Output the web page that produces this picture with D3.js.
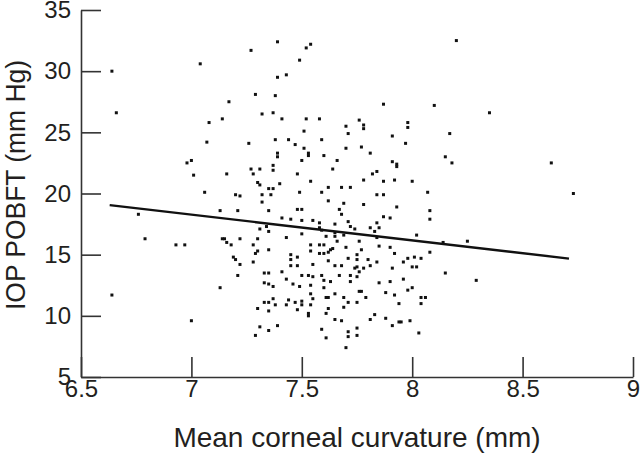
<!DOCTYPE html>
<html>
<head>
<meta charset="utf-8">
<script src="https://cdn.jsdelivr.net/npm/d3@7"></script>
<style>
  body { margin: 0; background: #fff; }
  text { font-family: 'Liberation Sans', Arial, sans-serif; fill: #231f20; }
</style>
</head>
<body>
<div id="scatter"></div>
<script>
// values: mean corneal curvature (mm) vs IOP POBFT (mm Hg)
let curvature = [
  6.64, 6.66, 7.04, 7.17, 7.08, 7.14, 7.27, 7.39, 7.29, 7.32, 7.37, 7.38, 7.39, 7.43, 7.41, 7.49, 7.52, 7.54, 7.52, 7.51,
  7.58, 8.20, 7.87, 8.10, 8.35, 7.76, 7.70, 7.78, 7.78, 7.98, 7.98, 7.71, 7.91, 8.17, 7.07, 7.26, 7.38, 7.44, 7.47, 7.51,
  7.39, 7.39, 7.53, 7.53, 7.59, 7.70, 7.77, 7.81, 7.97, 7.60, 7.66, 7.64, 7.50, 7.91, 7.93, 7.93, 8.15, 8.18, 8.63, 6.98,
  7.00, 7.01, 7.16, 7.27, 7.28, 7.31, 7.37, 7.37, 7.48, 7.82, 7.84, 7.54, 7.78, 7.87, 7.92, 8.00, 7.06, 7.20, 7.22, 7.30,
  7.31, 7.40, 7.35, 7.37, 7.32, 7.36, 7.32, 7.49, 7.59, 7.62, 7.68, 7.72, 7.84, 7.87, 8.07, 8.73, 7.62, 7.69, 7.78, 7.93,
  7.35, 7.13, 7.21, 7.48, 7.50, 7.67, 7.68, 8.08, 7.87, 7.90, 8.08, 7.41, 7.45, 7.50, 7.55, 7.58, 7.65, 7.71, 7.84, 6.76,
  7.72, 7.74, 7.81, 7.85, 7.83, 7.58, 7.59, 7.31, 7.34, 7.35, 7.14, 7.15, 7.16, 7.18, 7.22, 7.30, 7.28, 7.35, 7.43, 7.50,
  7.61, 7.65, 7.65, 7.69, 7.66, 7.76, 7.84, 7.54, 7.58, 7.60, 7.64, 7.70, 7.77, 8.02, 8.14, 8.25, 7.85, 7.90, 7.63, 7.45,
  7.45, 7.48, 7.54, 7.58, 7.60, 7.62, 7.71, 7.75, 7.75, 7.80, 7.62, 7.92, 8.08, 7.96, 7.98, 8.01, 8.04, 7.84, 7.19, 7.20,
  7.22, 7.28, 7.29, 7.30, 6.79, 6.93, 6.97, 7.45, 7.48, 7.55, 7.65, 7.68, 7.74, 7.75, 7.78, 7.81, 7.91, 8.00, 8.02, 8.15,
  8.29, 7.50, 7.53, 7.55, 7.59, 7.60, 7.67, 7.72, 7.75, 7.43, 7.46, 7.49, 7.54, 7.60, 7.63, 7.72, 7.76, 7.77, 7.54, 7.65,
  7.79, 7.55, 7.61, 7.62, 7.69, 7.71, 7.75, 7.44, 7.43, 7.47, 7.50, 7.50, 7.54, 7.21, 7.33, 7.35, 7.41, 7.33, 7.35, 7.37,
  7.13, 7.33, 7.35, 7.37, 7.38, 7.48, 7.53, 7.53, 7.85, 7.90, 7.96, 7.88, 7.92, 7.98, 8.00, 8.04, 8.06, 8.04, 7.94, 7.76,
  7.62, 7.61, 7.69, 7.81, 7.83, 7.65, 7.68, 7.59, 7.61, 7.71, 7.71, 7.75, 7.75, 7.70, 7.88, 7.91, 7.94, 7.95, 7.99, 8.03,
  7.30, 7.35, 7.31, 7.35, 7.39, 7.29, 7.00, 6.64
];
let iop = [
  30.0, 26.6, 30.6, 27.5, 25.8, 26.1, 31.7, 32.4, 28.1, 26.5, 26.6, 28.0, 29.5, 29.7, 26.1, 30.9, 31.9, 32.2, 26.1, 25.1,
  26.1, 32.5, 27.3, 27.2, 26.6, 26.0, 25.5, 25.6, 25.3, 25.8, 25.4, 24.9, 24.7, 24.9, 24.2, 24.1, 24.4, 24.4, 24.0, 23.7,
  23.3, 23.0, 23.3, 23.1, 24.4, 23.7, 23.8, 23.3, 24.1, 23.1, 22.7, 22.0, 22.7, 22.6, 22.4, 22.2, 23.0, 22.5, 22.5, 22.5,
  22.7, 21.5, 21.6, 22.0, 21.6, 22.0, 22.3, 21.9, 21.6, 21.6, 21.8, 21.0, 21.1, 21.0, 21.1, 21.0, 20.1, 19.9, 19.8, 20.9,
  20.7, 20.8, 20.4, 20.4, 19.9, 19.9, 19.3, 20.1, 20.1, 20.5, 20.5, 20.5, 19.9, 19.9, 20.1, 20.0, 19.4, 19.2, 19.1, 18.9,
  18.6, 18.6, 18.6, 18.7, 18.7, 18.7, 18.3, 18.6, 18.1, 18.0, 17.9, 18.0, 17.9, 17.8, 17.8, 17.6, 17.5, 17.7, 17.6, 18.3,
  17.3, 17.1, 17.2, 17.2, 16.9, 17.2, 17.0, 17.1, 17.3, 16.9, 16.3, 16.3, 16.0, 15.8, 16.3, 16.3, 15.8, 15.4, 16.4, 16.7,
  16.5, 16.8, 16.5, 16.6, 16.1, 16.1, 16.4, 15.8, 15.8, 15.8, 15.5, 15.6, 15.4, 16.6, 16.0, 16.1, 15.7, 15.6, 15.4, 15.0,
  14.6, 14.8, 15.3, 15.1, 15.1, 15.2, 14.7, 15.0, 14.6, 14.6, 14.5, 15.1, 15.2, 14.4, 14.7, 14.8, 14.7, 14.4, 14.8, 14.6,
  14.2, 14.4, 15.1, 15.3, 16.3, 15.8, 15.8, 14.1, 14.1, 14.2, 14.1, 14.1, 13.9, 14.0, 13.9, 14.1, 13.9, 14.0, 14.0, 13.5,
  12.9, 13.3, 13.3, 13.2, 13.3, 12.9, 13.3, 13.3, 13.2, 13.0, 12.6, 12.4, 12.5, 12.3, 12.8, 12.8, 12.0, 12.0, 11.8, 11.8,
  11.5, 11.4, 11.5, 11.5, 11.5, 11.1, 11.1, 11.3, 10.9, 11.1, 11.2, 10.9, 10.9, 13.3, 13.5, 13.5, 13.6, 12.7, 12.6, 12.4,
  12.3, 11.1, 11.1, 11.4, 10.9, 10.5, 10.2, 10.0, 12.7, 12.8, 13.0, 11.9, 11.7, 12.1, 12.3, 11.5, 11.5, 11.0, 11.0, 13.6,
  10.6, 10.2, 10.7, 9.7, 10.1, 9.7, 9.6, 8.9, 8.2, 8.7, 8.3, 9.0, 8.4, 7.4, 9.8, 9.2, 9.5, 9.5, 9.6, 8.6,
  10.6, 10.4, 9.1, 8.8, 9.2, 8.4, 9.6, 11.7
];
// fitted regression line end points
let fitX = [6.63, 8.71];
let fitY = [19.05, 14.68];

let xTicks = [6.5, 7, 7.5, 8, 8.5, 9];
let yTicks = [5, 10, 15, 20, 25, 30, 35];

let svgWidth = 640;
let svgHeight = 454;
let margin = { top: 10, right: 7, bottom: 77, left: 81 };
let width = svgWidth - margin.left - margin.right;
let height = svgHeight - margin.top - margin.bottom;

let svg = d3.select('#scatter')
  .append('svg')
  .attr('width', svgWidth)
  .attr('height', svgHeight);

let chartGroup = svg.append('g')
  .attr('transform', `translate(${margin.left}, ${margin.top})`);

let xScale = d3.scaleLinear().domain([6.5, 9]).range([0, width]);
let yScale = d3.scaleLinear().domain([5, 35]).range([height, 0]);

let bottomAxis = d3.axisBottom(xScale)
  .tickValues(xTicks)
  .tickFormat(d => String(d))
  .tickSizeInner(-20)
  .tickSizeOuter(0)
  .tickPadding(3);

let leftAxis = d3.axisLeft(yScale)
  .tickValues(yTicks)
  .tickFormat(d => String(d))
  .tickSizeInner(-20)
  .tickSizeOuter(0)
  .tickPadding(10);

let xAxis = chartGroup.append('g')
  .attr('transform', `translate(0,${height})`)
  .call(bottomAxis);

let yAxis = chartGroup.append('g')
  .call(leftAxis);

[xAxis, yAxis].forEach(function(ax) {
  ax.select('.domain').attr('stroke', '#333').attr('stroke-width', 1.6);
  ax.selectAll('.tick line').attr('stroke', '#333').attr('stroke-width', 1.6);
  ax.selectAll('.tick text')
    .attr('font-family', "'Liberation Sans', Arial, sans-serif")
    .attr('font-size', 24)
    .attr('fill', '#231f20');
});

let pts = curvature.map((c, i) => ({ x: c, y: iop[i] }));

chartGroup.selectAll('rect.pt')
  .data(pts)
  .enter()
  .append('rect')
  .attr('class', 'pt')
  .attr('x', d => xScale(d.x) - 1.5)
  .attr('y', d => yScale(d.y) - 1.5)
  .attr('width', 3)
  .attr('height', 3)
  .attr('fill', '#111');

let fitLine = d3.line()
  .x(d => xScale(d[0]))
  .y(d => yScale(d[1]));

chartGroup.append('path')
  .datum(fitX.map((v, i) => [v, fitY[i]]))
  .attr('d', fitLine)
  .attr('fill', 'none')
  .attr('stroke', '#111')
  .attr('stroke-width', 2.4);

chartGroup.append('text')
  .attr('x', width / 2)
  .attr('y', height + 70)
  .attr('text-anchor', 'middle')
  .attr('font-size', 28)
  .text('Mean corneal curvature (mm)');

chartGroup.append('text')
  .attr('transform', 'rotate(-90)')
  .attr('x', -175)
  .attr('y', -56)
  .attr('text-anchor', 'middle')
  .attr('font-size', 27)
  .attr('textLength', 250)
  .attr('lengthAdjust', 'spacingAndGlyphs')
  .text('IOP POBFT (mm Hg)');
</script>
</body>
</html>
